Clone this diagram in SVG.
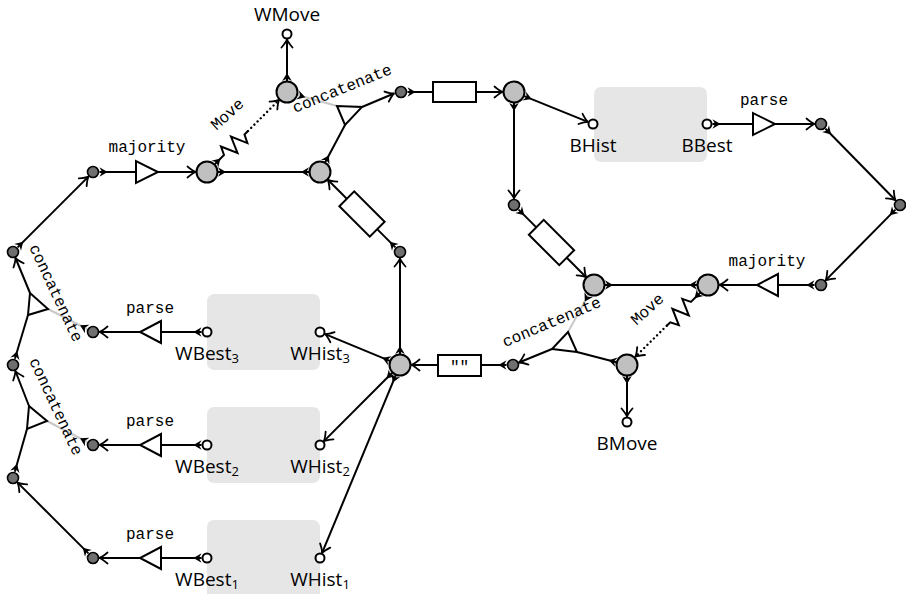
<svg xmlns="http://www.w3.org/2000/svg" width="906" height="594" viewBox="0 0 906 594">
<style>
.e{fill:none;stroke:#000;stroke-width:2}
.ta{marker-start:url(#tl);marker-end:url(#ar)}
.tt{marker-start:url(#tl);marker-end:url(#tlr)}
.t{marker-start:url(#tl)}
.a{marker-end:url(#ar)}
.g{stroke:#c8c8c8}
.dot{stroke-dasharray:0.01 4.5;stroke-linecap:round;stroke-width:2.4}
.big{fill:#c0c0c0;stroke:#000;stroke-width:2}
.dk{fill:#6f6f6f;stroke:#000;stroke-width:1.6}
.pt{fill:#fff;stroke:#000;stroke-width:2}
.op{fill:#fff;stroke:#000;stroke-width:2;stroke-linejoin:miter}
.box{fill:#e6e6e6}
.m{font-family:"Liberation Mono",monospace;font-size:16px;fill:#000}
.s{font-family:"Open Sans","DejaVu Sans",sans-serif;font-size:19px;fill:#000}
</style>
<defs>
<marker id="ar" viewBox="-10 -7 11 14" refX="0" refY="0" markerWidth="11" markerHeight="14" markerUnits="userSpaceOnUse" orient="auto">
<path d="M-8,-5.5 Q-3,-1.2 0,0 Q-3,1.2 -8,5.5" fill="none" stroke="#000" stroke-width="1.8" stroke-linecap="round" stroke-linejoin="round"/>
</marker>
<marker id="tl" viewBox="-1 -7 11 14" refX="0" refY="0" markerWidth="11" markerHeight="14" markerUnits="userSpaceOnUse" orient="auto">
<path d="M0,-4.8 L8,0 L0,4.8 L2.6,0 Z" fill="#000"/>
</marker>
<marker id="tlr" viewBox="-10 -7 11 14" refX="0" refY="0" markerWidth="11" markerHeight="14" markerUnits="userSpaceOnUse" orient="auto">
<path d="M0,-4.8 L-8,0 L0,4.8 L-2.6,0 Z" fill="#000"/>
</marker>
</defs>

<g id="boxes">
<rect class="box" x="594" y="87" width="113" height="75" rx="7"/>
<rect class="box" x="207" y="294" width="113" height="76" rx="7"/>
<rect class="box" x="207" y="407" width="113" height="76" rx="7"/>
<rect class="box" x="207" y="520" width="113" height="80" rx="7"/>
</g>

<g id="connectors" class="e">
<path class="ta" d="M99.5,172H195.5"/>
<path class="tt" d="M218,172H309"/>
<path class="t" d="M214.8,164.2L224,155L221,146.5L237.5,153L231,136.6L247.4,143.1L244.5,134.5L248,131"/>
<path class="dot a" d="M248,131L279.1,99.9"/>
<path class="ta" d="M287,81V39.5"/>
<path class="t" d="M325.2,162.3L345,125"/>
<path class="a" d="M362,107L394,93.5"/>
<path class="g t" d="M297.6,95L337,106"/>
<path class="ta" d="M407.5,92H502.5"/>
<path class="ta" d="M524.2,96.1L587.9,121.9"/>
<path class="ta" d="M514,103V198.5"/>
<path class="ta" d="M518.6,209.6L586.2,277.2"/>
<path class="tt" d="M605,285H697"/>
<path class="ta" d="M814.5,285H719.5"/>
<path class="ta" d="M895.4,209.6L825.6,280.4"/>
<path class="ta" d="M825.5,128.7L895.5,200.3"/>
<path class="ta" d="M712.5,124H814.5"/>
<path class="t" d="M616.4,362.2L577,352"/>
<path class="a" d="M552,349L519,362.5"/>
<path class="g t" d="M588.7,294.6L568,332"/>
<path class="t" d="M700.2,292.7L690.9,301.9L682.3,298.9L688.8,315.4L672.4,308.7L678.8,325.2L670.3,322.3L666.7,325.8"/>
<path class="dot a" d="M666.7,325.8L635.4,356.7"/>
<path class="ta" d="M627,376V416.5"/>
<path class="ta" d="M506.5,365H411.5"/>
<path class="ta" d="M400,354V258.5"/>
<path class="ta" d="M395.4,247.4L327.8,179.8"/>
<path class="ta" d="M389.8,360.8L325.1,334.1"/>
<path class="ta" d="M392.2,372.8L323.9,441.1"/>
<path class="ta" d="M395.8,375.2L322.1,552.9"/>
<path class="ta" d="M201.5,332H99.5"/>
<path class="ta" d="M201.5,445H99.5"/>
<path class="ta" d="M201.5,558H99.5"/>
<path class="t" d="M14.9,358.8L28,315"/>
<path class="a" d="M30,293L15.5,258"/>
<path class="g t" d="M87.2,329L48,309"/>
<path class="t" d="M14.8,471.8L27,429"/>
<path class="a" d="M29,406L15.4,371"/>
<path class="g t" d="M87.2,442L47,421"/>
<path class="ta" d="M88.4,553.4L17.6,482.6"/>
<path class="ta" d="M17.6,247.4L88.4,176.6"/>
</g>

<g id="labels-edges">
<text class="m" transform="translate(228,115) rotate(-42)" x="0" y="4" text-anchor="middle">Move</text>
<text class="m" transform="translate(648,310) rotate(-42)" x="0" y="4" text-anchor="middle">Move</text>
<text class="m" transform="translate(342.5,89.5) rotate(-22)" x="0" y="4" text-anchor="middle">concatenate</text>
<text class="m" transform="translate(552,323) rotate(-23)" x="0" y="4" text-anchor="middle">concatenate</text>
<text class="m" transform="translate(55,293.5) rotate(65)" x="0" y="4" text-anchor="middle">concatenate</text>
<text class="m" transform="translate(55,407) rotate(65)" x="0" y="4" text-anchor="middle">concatenate</text>
</g>

<g id="op-majority-w"><polygon class="op" points="136,161 136,183 158,172"/><text class="m" x="147" y="152" text-anchor="middle">majority</text></g>
<g id="op-majority-b"><polygon class="op" points="778,274 778,296 757,285"/><text class="m" x="767" y="266" text-anchor="middle">majority</text></g>
<g id="op-parse-b"><polygon class="op" points="753,113 753,135 775,124"/><text class="m" x="764" y="105" text-anchor="middle">parse</text></g>
<g id="op-parse-w3"><polygon class="op" points="161,321 161,343 140,332"/><text class="m" x="150" y="313" text-anchor="middle">parse</text></g>
<g id="op-parse-w2"><polygon class="op" points="161,434 161,456 140,445"/><text class="m" x="150" y="426" text-anchor="middle">parse</text></g>
<g id="op-parse-w1"><polygon class="op" points="161,547 161,569 140,558"/><text class="m" x="150" y="539" text-anchor="middle">parse</text></g>
<g id="op-concat-top"><polygon class="op" points="337,106 345,125 362,107"/></g>
<g id="op-concat-bottom"><polygon class="op" points="568,332 577,352 552,349"/></g>
<g id="op-concat-left1"><polygon class="op" points="30,293 28,315 48,309"/></g>
<g id="op-concat-left2"><polygon class="op" points="29,406 27,429 47,421"/></g>
<g id="op-store-top"><rect class="op" x="433" y="82" width="43" height="20"/></g>
<g id="op-store-right"><rect class="op" x="-21.5" y="-10.5" width="43" height="21" transform="translate(551.5,242.5) rotate(45)"/></g>
<g id="op-store-left"><rect class="op" x="-21.5" y="-10.5" width="43" height="21" transform="translate(362,214) rotate(45)"/></g>
<g id="op-empty"><rect class="op" x="438" y="355" width="43" height="21"/><text class="m" x="459.5" y="372" text-anchor="middle">""</text></g>

<g id="node-A"><circle class="big" cx="207" cy="172" r="10.5"/></g>
<g id="node-B"><circle class="big" cx="320" cy="172" r="10.5"/></g>
<g id="node-C"><circle class="big" cx="287" cy="92" r="10.5"/></g>
<g id="node-D"><circle class="big" cx="514" cy="92" r="10.5"/></g>
<g id="node-E"><circle class="big" cx="594" cy="285" r="10.5"/></g>
<g id="node-F"><circle class="big" cx="708" cy="285" r="10.5"/></g>
<g id="node-G"><circle class="big" cx="627" cy="365" r="10.5"/></g>
<g id="node-H"><circle class="big" cx="400" cy="365" r="10.5"/></g>

<g id="dark-1"><circle class="dk" cx="93" cy="172" r="5.5"/></g>
<g id="dark-2"><circle class="dk" cx="13" cy="252" r="5.5"/></g>
<g id="dark-3"><circle class="dk" cx="13" cy="365" r="5.5"/></g>
<g id="dark-4"><circle class="dk" cx="13" cy="478" r="5.5"/></g>
<g id="dark-5"><circle class="dk" cx="93" cy="332" r="5.5"/></g>
<g id="dark-6"><circle class="dk" cx="93" cy="445" r="5.5"/></g>
<g id="dark-7"><circle class="dk" cx="93" cy="558" r="5.5"/></g>
<g id="dark-8"><circle class="dk" cx="401" cy="92" r="5.5"/></g>
<g id="dark-9"><circle class="dk" cx="514" cy="205" r="5.5"/></g>
<g id="dark-10"><circle class="dk" cx="400" cy="252" r="5.5"/></g>
<g id="dark-11"><circle class="dk" cx="513" cy="365" r="5.5"/></g>
<g id="dark-12"><circle class="dk" cx="821" cy="124" r="5.5"/></g>
<g id="dark-13"><circle class="dk" cx="900" cy="205" r="5.5"/></g>
<g id="dark-14"><circle class="dk" cx="821" cy="285" r="5.5"/></g>

<g id="port-WMove"><circle class="pt" cx="287" cy="34" r="4.5"/><text class="s" x="287" y="21" text-anchor="middle">WMove</text></g>
<g id="port-BHist"><circle class="pt" cx="593" cy="124" r="4.5"/><text class="s" x="593" y="152" text-anchor="middle">BHist</text></g>
<g id="port-BBest"><circle class="pt" cx="707" cy="124" r="4.5"/><text class="s" x="707" y="152" text-anchor="middle">BBest</text></g>
<g id="port-WBest3"><circle class="pt" cx="207" cy="332" r="4.5"/><text class="s" x="207" y="360" text-anchor="middle">WBest<tspan font-size="13" dy="3">3</tspan></text></g>
<g id="port-WHist3"><circle class="pt" cx="320" cy="332" r="4.5"/><text class="s" x="320" y="360" text-anchor="middle">WHist<tspan font-size="13" dy="3">3</tspan></text></g>
<g id="port-WBest2"><circle class="pt" cx="207" cy="445" r="4.5"/><text class="s" x="207" y="473" text-anchor="middle">WBest<tspan font-size="13" dy="3">2</tspan></text></g>
<g id="port-WHist2"><circle class="pt" cx="320" cy="445" r="4.5"/><text class="s" x="320" y="473" text-anchor="middle">WHist<tspan font-size="13" dy="3">2</tspan></text></g>
<g id="port-WBest1"><circle class="pt" cx="207" cy="558" r="4.5"/><text class="s" x="207" y="586" text-anchor="middle">WBest<tspan font-size="13" dy="3">1</tspan></text></g>
<g id="port-WHist1"><circle class="pt" cx="320" cy="558" r="4.5"/><text class="s" x="320" y="586" text-anchor="middle">WHist<tspan font-size="13" dy="3">1</tspan></text></g>
<g id="port-BMove"><circle class="pt" cx="627" cy="422" r="4.5"/><text class="s" x="627" y="450" text-anchor="middle">BMove</text></g>
</svg>
